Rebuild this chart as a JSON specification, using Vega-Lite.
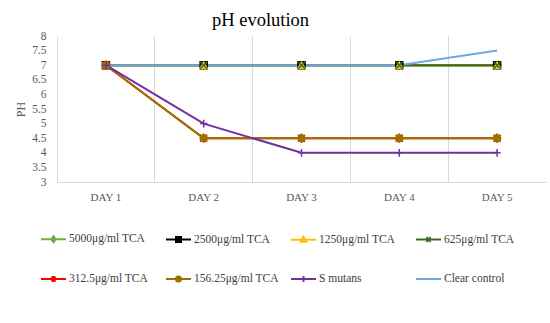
{
  "$schema": "https://vega.github.io/schema/vega-lite/v6.json",
  "width": 489,
  "height": 146,
  "autosize": {"type": "none"},
  "padding": {"left": 57, "top": 36, "right": 4, "bottom": 141},
  "background": "white",
  "config": {"view": {"stroke": null}, "font": "Liberation Serif"},
  "title": {"text": "pH evolution", "font": "Liberation Serif", "fontSize": 18.5, "fontWeight": "normal", "color": "#000000", "anchor": "middle", "dx": -41, "dy": 4, "baseline": "bottom", "offset": -14},
  "data": {"values": [
    {"series": "5000μg/ml TCA", "day": "DAY 1", "ph": 7},
    {"series": "5000μg/ml TCA", "day": "DAY 2", "ph": 7},
    {"series": "5000μg/ml TCA", "day": "DAY 3", "ph": 7},
    {"series": "5000μg/ml TCA", "day": "DAY 4", "ph": 7},
    {"series": "5000μg/ml TCA", "day": "DAY 5", "ph": 7},
    {"series": "2500μg/ml  TCA", "day": "DAY 1", "ph": 7},
    {"series": "2500μg/ml  TCA", "day": "DAY 2", "ph": 7},
    {"series": "2500μg/ml  TCA", "day": "DAY 3", "ph": 7},
    {"series": "2500μg/ml  TCA", "day": "DAY 4", "ph": 7},
    {"series": "2500μg/ml  TCA", "day": "DAY 5", "ph": 7},
    {"series": "1250μg/ml  TCA", "day": "DAY 1", "ph": 7},
    {"series": "1250μg/ml  TCA", "day": "DAY 2", "ph": 7},
    {"series": "1250μg/ml  TCA", "day": "DAY 3", "ph": 7},
    {"series": "1250μg/ml  TCA", "day": "DAY 4", "ph": 7},
    {"series": "1250μg/ml  TCA", "day": "DAY 5", "ph": 7},
    {"series": "625μg/ml  TCA", "day": "DAY 1", "ph": 7},
    {"series": "625μg/ml  TCA", "day": "DAY 2", "ph": 7},
    {"series": "625μg/ml  TCA", "day": "DAY 3", "ph": 7},
    {"series": "625μg/ml  TCA", "day": "DAY 4", "ph": 7},
    {"series": "625μg/ml  TCA", "day": "DAY 5", "ph": 7},
    {"series": "312.5μg/ml  TCA", "day": "DAY 1", "ph": 7},
    {"series": "312.5μg/ml  TCA", "day": "DAY 2", "ph": 4.5},
    {"series": "312.5μg/ml  TCA", "day": "DAY 3", "ph": 4.5},
    {"series": "312.5μg/ml  TCA", "day": "DAY 4", "ph": 4.5},
    {"series": "312.5μg/ml  TCA", "day": "DAY 5", "ph": 4.5},
    {"series": "156.25μg/ml  TCA", "day": "DAY 1", "ph": 7},
    {"series": "156.25μg/ml  TCA", "day": "DAY 2", "ph": 4.5},
    {"series": "156.25μg/ml  TCA", "day": "DAY 3", "ph": 4.5},
    {"series": "156.25μg/ml  TCA", "day": "DAY 4", "ph": 4.5},
    {"series": "156.25μg/ml  TCA", "day": "DAY 5", "ph": 4.5},
    {"series": "S mutans", "day": "DAY 1", "ph": 7},
    {"series": "S mutans", "day": "DAY 2", "ph": 5},
    {"series": "S mutans", "day": "DAY 3", "ph": 4},
    {"series": "S mutans", "day": "DAY 4", "ph": 4},
    {"series": "S mutans", "day": "DAY 5", "ph": 4},
    {"series": "Clear control", "day": "DAY 1", "ph": 7},
    {"series": "Clear control", "day": "DAY 2", "ph": 7},
    {"series": "Clear control", "day": "DAY 3", "ph": 7},
    {"series": "Clear control", "day": "DAY 4", "ph": 7},
    {"series": "Clear control", "day": "DAY 5", "ph": 7.5}
  ]},
  "layer": [
    {
      "mark": {"type": "line", "interpolate": "linear", "strokeWidth": 2},
      "encoding": {
        "x": {"field": "day", "type": "nominal", "sort": null,
          "scale": {"type": "band", "paddingInner": 0, "paddingOuter": 0},
          "axis": {"title": null, "bandPosition": 0, "grid": true, "gridColor": "#d9d9d9", "gridWidth": 1, "ticks": false, "domainColor": "#d9d9d9", "domainWidth": 1, "labelAngle": 0, "labelFont": "Liberation Serif", "labelFontSize": 11, "labelColor": "#595959", "labelPadding": 9}},
        "y": {"field": "ph", "type": "quantitative",
          "scale": {"domain": [3, 8], "nice": false, "zero": false},
          "axis": {"title": "PH", "tickCount": 10, "labelOverlap": false, "labelExpr": "format(datum.value, '~g')", "grid": false, "ticks": false, "domain": false, "labelFont": "Liberation Serif", "labelFontSize": 11.5, "labelColor": "#595959", "labelPadding": 11, "titleFont": "Liberation Serif", "titleFontSize": 12, "titleFontWeight": "normal", "titleColor": "#595959", "titlePadding": 4}},
        "color": {"field": "series", "type": "nominal", "sort": null,
          "scale": {"domain": ["5000μg/ml TCA", "2500μg/ml  TCA", "1250μg/ml  TCA", "625μg/ml  TCA", "312.5μg/ml  TCA", "156.25μg/ml  TCA", "S mutans", "Clear control"],
            "range": ["#70AD47", "#000000", "#FFC000", "#3B6B22", "#FF0000", "#997300", "#7030A0", "#70A8DE"]},
          "legend": {"title": null, "orient": "none", "legendX": -17, "legendY": 189.5, "direction": "horizontal", "columns": 4, "gridAlign": "all", "columnPadding": 5, "rowPadding": 19, "padding": 0, "symbolSize": 625, "symbolStrokeWidth": 2, "labelFont": "Liberation Serif", "labelFontSize": 11.5, "labelColor": "#404040", "labelOffset": 2, "labelLimit": 200,
            "encode": {"symbols": {"update": {
              "shape": {"signal": "['M-1,0H1M0,-0.24L0.18,0L0,0.24L-0.18,0Z', 'M-1,0H1M-0.2,-0.2H0.2V0.2H-0.2Z', 'M-1,0H1M0,-0.24L0.22,0.16H-0.22Z', 'M-1,0H1M-0.16,-0.2L0.16,0.2M-0.16,0.2L0.16,-0.2', 'M-1,0H1M-0.16,-0.2L0.16,0.2M-0.16,0.2L0.16,-0.2M0,-0.24V0.24', 'M-1,0H1M0.2,0A0.2,0.2,0,1,1,-0.2,0A0.2,0.2,0,1,1,0.2,0Z', 'M-1,0H1M0,-0.24V0.24', 'M-1,0H1'][datum.index]"},
              "fill": {"signal": "scale('color', datum.value)"},
              "stroke": {"signal": "scale('color', datum.value)"},
              "strokeWidth": {"value": 2},
              "opacity": {"value": 1}
            }}}}}
      }
    },
    {
      "transform": [{"filter": "datum.series !== 'Clear control'"}],
      "mark": {"type": "point", "filled": true, "size": 50, "strokeWidth": 1.5, "opacity": 1},
      "encoding": {
        "x": {"field": "day", "type": "nominal", "sort": null},
        "y": {"field": "ph", "type": "quantitative"},
        "color": {"field": "series", "type": "nominal", "sort": null},
        "stroke": {"field": "series", "type": "nominal", "sort": null, "legend": null,
          "scale": {"domain": ["5000μg/ml TCA", "2500μg/ml  TCA", "1250μg/ml  TCA", "625μg/ml  TCA", "312.5μg/ml  TCA", "156.25μg/ml  TCA", "S mutans"],
            "range": ["#70AD47", "#000000", "#FFC000", "#3B6B22", "#FF0000", "#997300", "#7030A0"]}},
        "shape": {"field": "series", "type": "nominal", "sort": null, "legend": null,
          "scale": {"domain": ["5000μg/ml TCA", "2500μg/ml  TCA", "1250μg/ml  TCA", "625μg/ml  TCA", "312.5μg/ml  TCA", "156.25μg/ml  TCA", "S mutans"],
            "range": ["diamond", "square", "triangle-up", "M-1,-1L1,1M-1,1L1,-1", "M-1,-1L1,1M-1,1L1,-1M0,-1.3V1.3", "circle", "M-1,0H1M0,-1.1V1.1"]}}
      }
    }
  ]
}
